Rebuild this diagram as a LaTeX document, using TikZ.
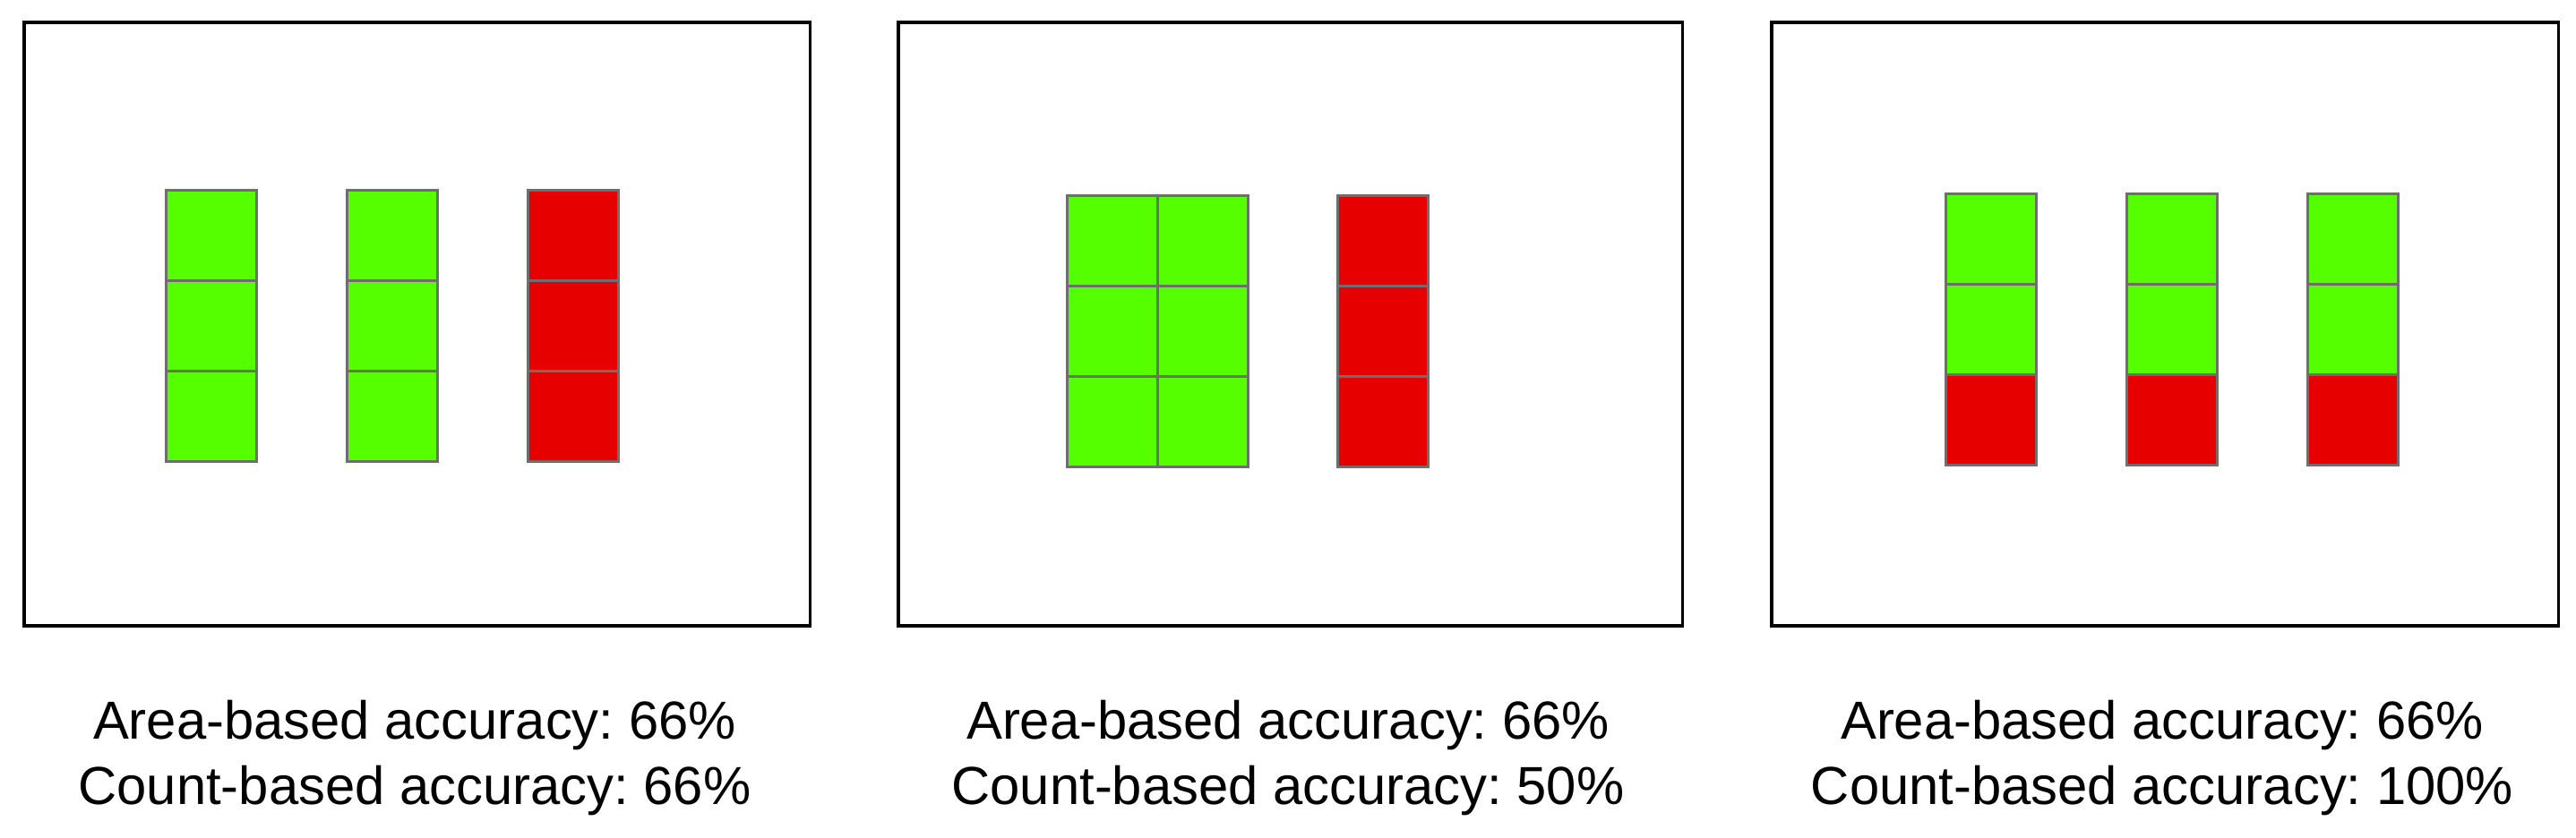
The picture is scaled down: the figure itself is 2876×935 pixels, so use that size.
\documentclass[tikz,border=0pt]{standalone}
\usepackage{fontspec}
\setmainfont{Liberation Sans}
\definecolor{cellgreen}{RGB}{85,255,0}
\definecolor{cellred}{RGB}{230,0,0}
\definecolor{cellborder}{RGB}{110,110,110}
\tikzset{
  frame/.style={draw=black, line width=1.1pt, inner sep=0pt, anchor=north west},
  cell/.style={draw=cellborder, line width=0.9pt, inner sep=0pt, anchor=north west,
    minimum width=1.01cm, minimum height=1.01cm},
  gcell/.style={cell, fill=cellgreen},
  rcell/.style={cell, fill=cellred},
  caption/.style={align=center, font=\fontsize{17}{20.6}\selectfont\frenchspacing, anchor=base, inner sep=0pt}
}
\begin{document}
\begin{tikzpicture}[x=0.01cm, y=-0.01cm]
\useasboundingbox (0,0) rectangle (2876,935);
% frames
\node[frame, minimum width=8.77cm, minimum height=6.74cm] (f1) at (25,23) {};
\node[frame, minimum width=8.75cm, minimum height=6.74cm] (f2) at (1001,23) {};
\node[frame, minimum width=8.78cm, minimum height=6.74cm] (f3) at (1976,23) {};
% panel 1
\foreach \i/\x in {1/184, 2/386} {
  \node[gcell] (a\i t) at (\x,211) {};
  \node[gcell] (a\i m) at (\x,312) {};
  \node[gcell] (a\i b) at (\x,413) {};
}
\node[rcell] (a3t) at (588,211) {};
\node[rcell] (a3m) at (588,312) {};
\node[rcell] (a3b) at (588,413) {};
% panel 2
\foreach \i/\x in {1/1190, 2/1291} {
  \node[gcell] (b\i t) at (\x,217) {};
  \node[gcell] (b\i m) at (\x,318) {};
  \node[gcell] (b\i b) at (\x,419) {};
}
\node[rcell] (b3t) at (1492,217) {};
\node[rcell] (b3m) at (1492,318) {};
\node[rcell] (b3b) at (1492,419) {};
% panel 3
\foreach \i/\x in {1/2171, 2/2373, 3/2575} {
  \node[gcell] (c\i t) at (\x,215) {};
  \node[gcell] (c\i m) at (\x,316) {};
  \node[rcell] (c\i b) at (\x,417) {};
}
% captions (anchor at baseline of the last line)
\node[caption] (t1) at (463,898) {Area-based accuracy: 66\%\\Count-based accuracy: 66\%};
\node[caption] (t2) at (1438,898) {Area-based accuracy: 66\%\\Count-based accuracy: 50\%};
\node[caption] (t3) at (2414,898) {Area-based accuracy: 66\%\\Count-based accuracy: 100\%};
\end{tikzpicture}
\end{document}
